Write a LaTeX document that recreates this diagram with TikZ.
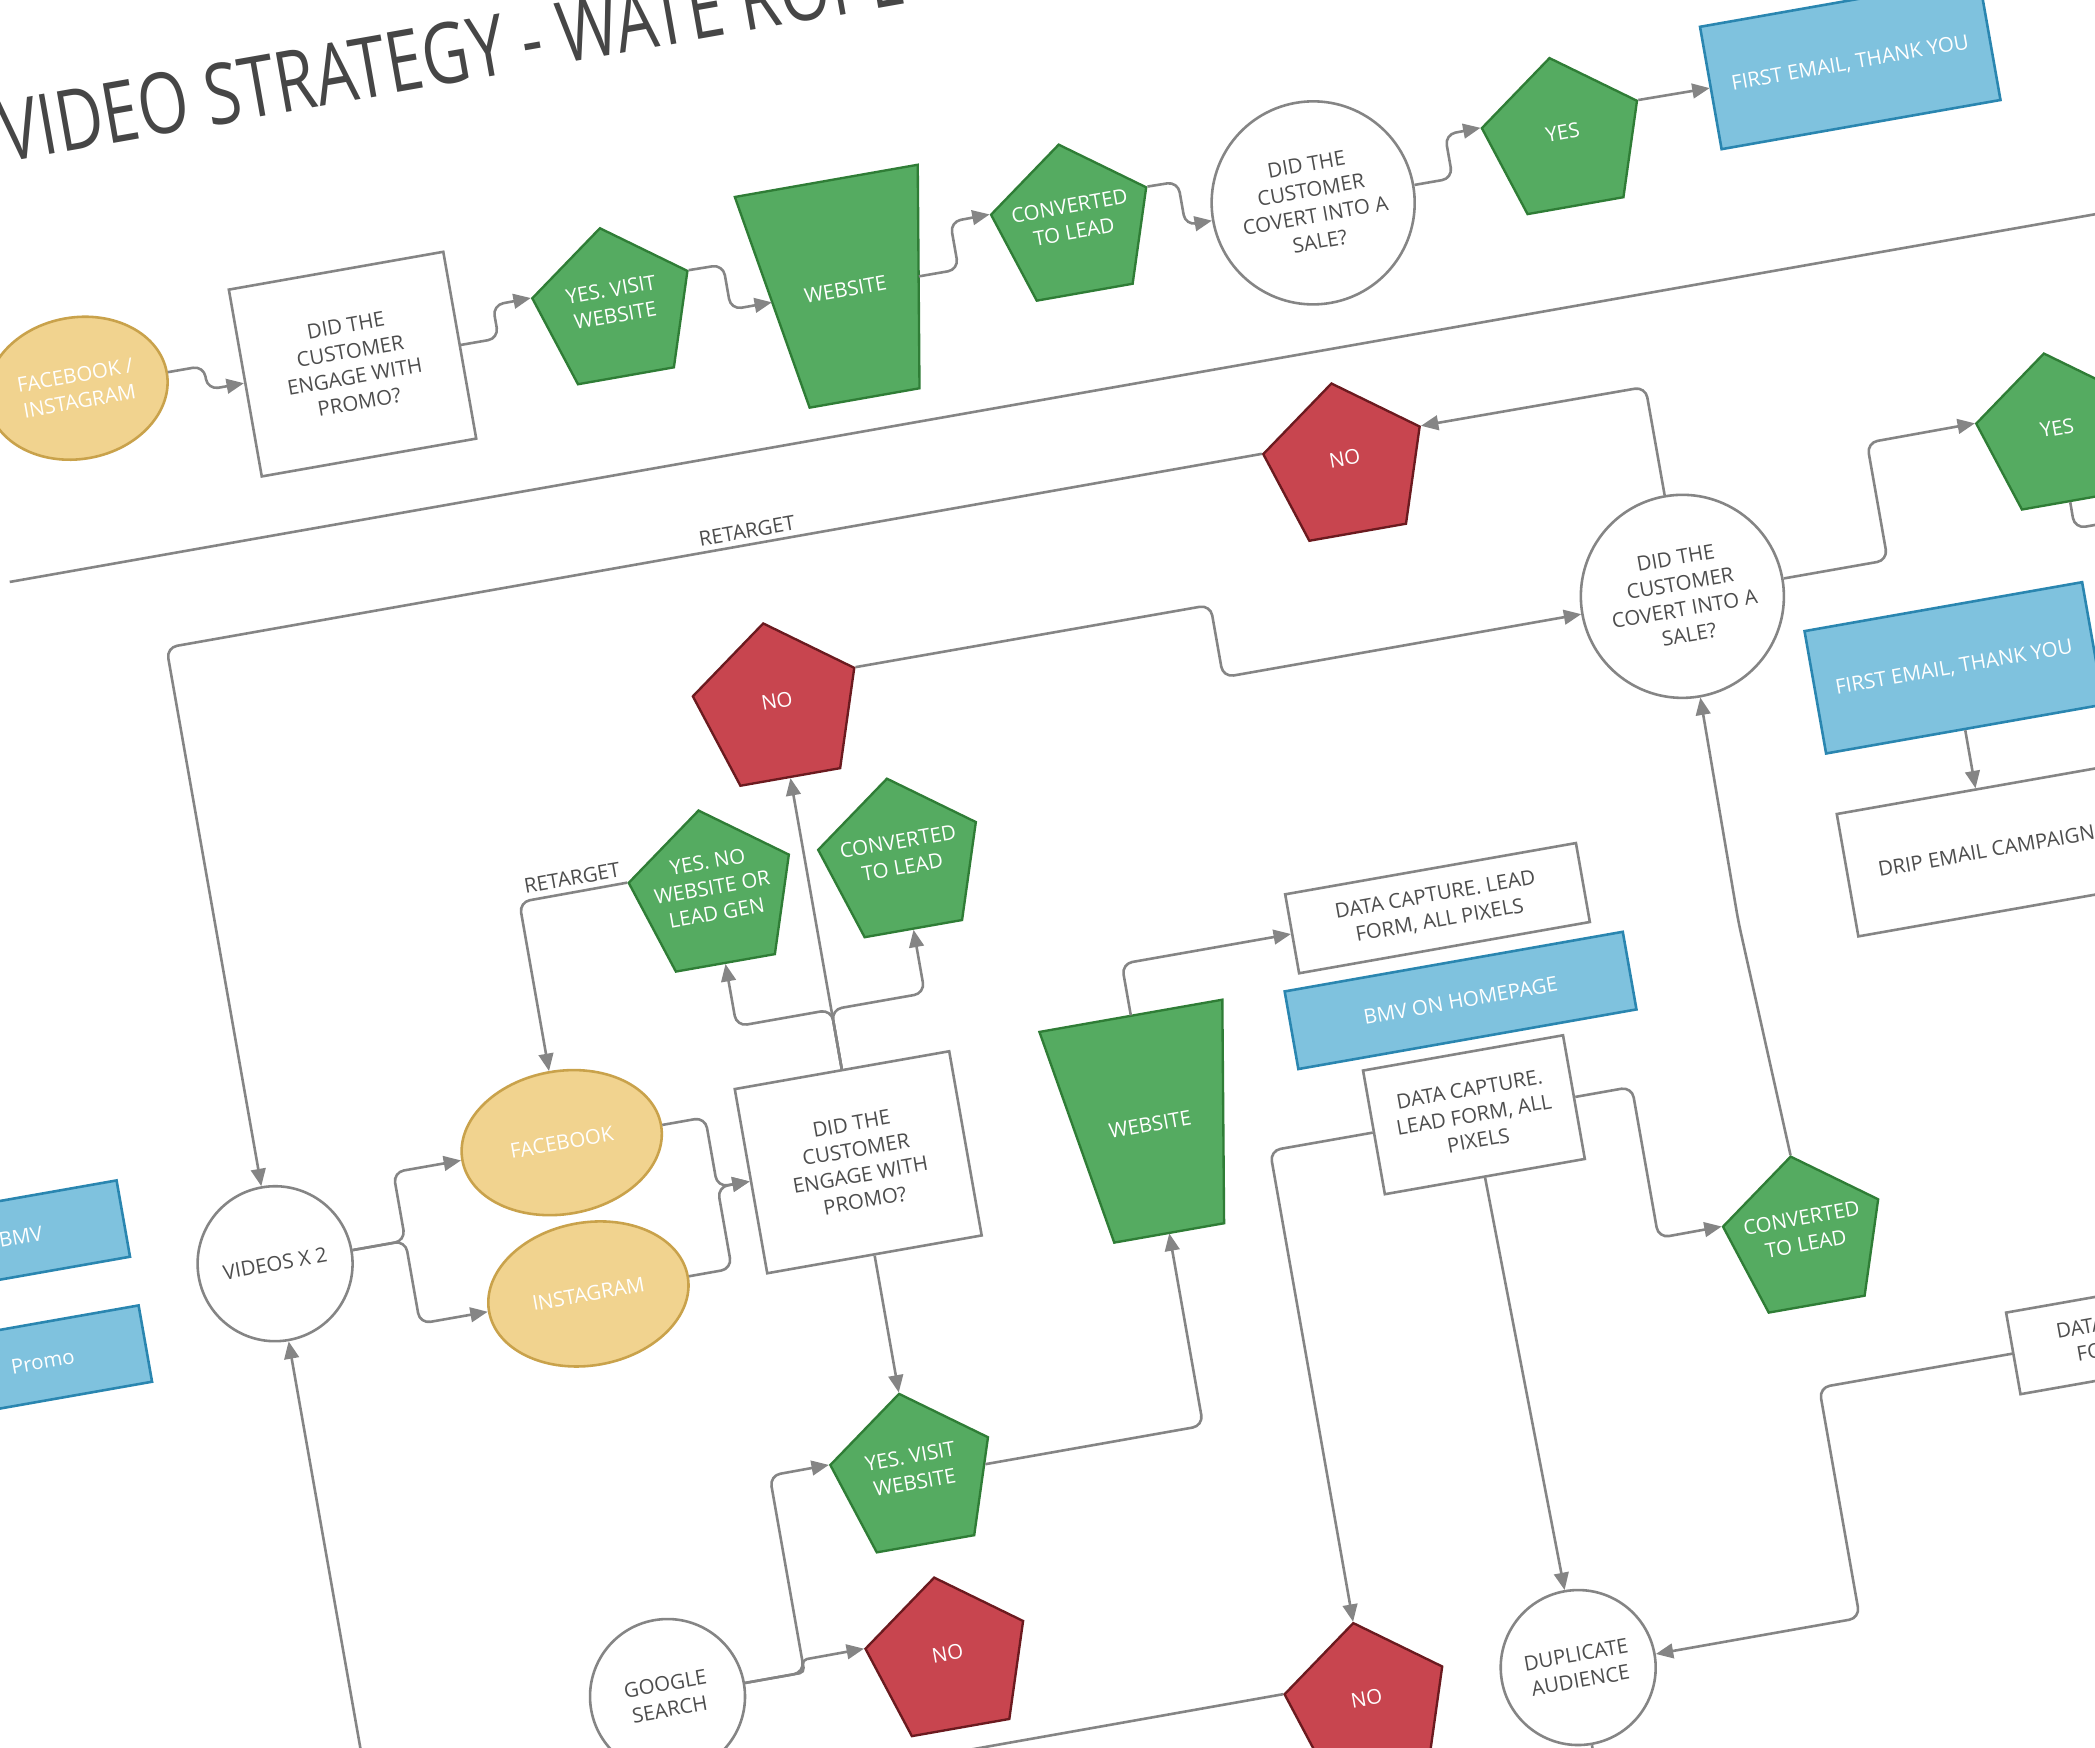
\documentclass[tikz,border=0pt]{standalone}
\usepackage{fontspec}
\setmainfont{Open Sans}
\usetikzlibrary{shapes.geometric,arrows.meta}
\definecolor{gfill}{HTML}{55AB61}
\definecolor{gdraw}{HTML}{2F7D36}
\definecolor{rfill}{HTML}{C8454F}
\definecolor{rdraw}{HTML}{6B1A1F}
\definecolor{yfill}{HTML}{F1D38F}
\definecolor{ydraw}{HTML}{C9A24B}
\definecolor{bfill}{HTML}{7FC2DE}
\definecolor{bdraw}{HTML}{2A86B0}
\definecolor{lgray}{HTML}{858585}
\definecolor{tgray}{HTML}{4D4D4D}
\definecolor{titlegray}{HTML}{464646}
\newcommand{\ctext}[1]{\smash{\makebox[0pt]{\begin{tabular}{@{}c@{}}#1\end{tabular}}}}
\begin{document}
\begin{tikzpicture}[x=0.02cm,y=0.02cm,
  txt/.style={font=\fontsize{8.7}{11.1}\selectfont, align=center, inner sep=0pt},
  gpent/.style={txt, regular polygon, regular polygon sides=5, minimum size=2.48cm, fill=gfill, draw=gdraw, line width=1pt, text=white},
  rpent/.style={txt, regular polygon, regular polygon sides=5, minimum size=2.5cm, fill=rfill, draw=rdraw, line width=1pt, text=white},
  trapnode/.style={txt, rectangle, minimum width=2.22cm, minimum height=3.3cm, text=white},
  trapfill/.style={fill=gfill, draw=gdraw, line width=1pt},
  wbox/.style={txt, rectangle, draw=lgray, fill=white, line width=1.1pt, text=tgray},
  wcirc/.style={txt, circle, draw=lgray, fill=white, line width=1.1pt, text=tgray},
  bluebox/.style={txt, rectangle, fill=bfill, draw=bdraw, line width=1.1pt, text=white},
  yell/.style={txt, ellipse, fill=yfill, draw=ydraw, line width=1.1pt, text=white},
  lbl/.style={txt, text=tgray, inner sep=1pt},
  titletxt/.style={font=\fontsize{36}{40}\selectfont, text=titlegray, inner sep=0pt, xscale=0.77},
  conn/.style={draw=lgray, line width=1.1pt, rounded corners=0.16cm, -{Triangle[length=0.26cm,width=0.22cm]}},
  plainline/.style={draw=lgray, line width=1.1pt, rounded corners=0.16cm},
]
\path[use as bounding box] (0,0) rectangle (1568,-1308);
\clip (0,0) rectangle (1568,-1308);
\fill[white] (0,0) rectangle (1568,-1308);
\begin{scope}[shift={(784,-654)}, rotate=10, transform shape]
% title
\node[titletxt, anchor=base west] (title) at (-676,660) {VIDEO STRATEGY - WATE ROPE};

% ---------- top row ----------
\node[yell, minimum width=2.72cm, minimum height=2.12cm] (fbig) at (-652,484) {FACEBOOK /\\INSTAGRAM};
\node[wbox, minimum width=3.26cm, minimum height=2.84cm] (eng1) at (-446,466) {DID THE\\CUSTOMER\\ENGAGE WITH\\PROMO?};
\node[gpent] (yv1) at (-246,472) {\ctext{YES. VISIT\\WEBSITE}};
\path[trapfill] (-142.5,539.5) -- (-3.5,539.5) -- (-31.25,374.5) -- (-114.75,374.5) -- cycle;
\node[trapnode] (web1) at (-73,457) {WEBSITE};
\node[gpent] (cl1) at (103,474) {\ctext{CONVERTED\\TO LEAD}};
\node[wcirc, minimum size=3.04cm] (sale1) at (283,460) {DID THE\\CUSTOMER\\COVERT INTO A\\SALE?};
\node[gpent] (yes1) at (476,474) {\ctext{YES}};
\node[bluebox, minimum width=4.24cm, minimum height=1.86cm] (em1) at (697,493) {FIRST EMAIL, THANK YOU};

\draw[conn] (fbig.east) -- (-556,484) -- (-556,466) -- (eng1.west);
\draw[conn] (eng1.east) -- (-335,466) -- (-335,491.2) -- (yv1.corner 2);
\draw[conn] (yv1.corner 5) -- (-160,491.2) -- (-160,457) -- (web1.west);
\draw[conn] (web1.east) -- (13,457) -- (13,493.2) -- (cl1.corner 2);
\draw[conn] (cl1.corner 5) -- (186,493.2) -- (186,460) -- (sale1.west);
\draw[conn] (sale1.east) -- (389,460) -- (389,493.2) -- (yes1.corner 2);
\draw[conn] (yes1.corner 5) -- (em1.west);

% separator line
\draw[plainline] (-727,350) -- (950,350);

% ---------- middle / right ----------
\node[rpent] (noA) at (273,262) {\ctext{NO}};
\node[wcirc, minimum size=3.04cm] (sale2) at (504,122) {DID THE\\CUSTOMER\\COVERT INTO A\\SALE?};
\node[rpent, minimum size=2.58cm] (noB) at (-177,157) {\ctext{NO}};
\node[wcirc, minimum size=2.32cm] (vid) at (-620,-187) {VIDEOS X 2};
\node[gpent] (yes2) at (802,192) {\ctext{YES}};
\node[bluebox, minimum width=4.22cm, minimum height=1.86cm] (em2) at (695,34) {FIRST EMAIL, THANK YOU};
\node[wbox, minimum width=4.22cm, minimum height=1.86cm] (drip) at (695,-105) {DRIP EMAIL CAMPAIGN};

\draw[conn] (noA.corner 2) -- (-620,281.2) -- (vid.north);
\node[lbl, anchor=south] (rt1) at (-177,284) {RETARGET};
\draw[conn] (sale2.north) -- (504,281.2) -- (noA.corner 5);
\draw[conn] (noB.corner 5) -- (155,177) -- (155,122) -- (sale2.west);
\draw[conn] (sale2.east) -- (660,122) -- (660,211.2) -- (yes2.corner 2);
\coordinate (yes2out) at (920,121);
\draw[plainline] (yes2.south) -- (802,121) -- (yes2out);
\draw[conn] (em2.south) -- (drip.north);

% ---------- left cluster ----------
\node[bluebox, minimum width=3.12cm, minimum height=1.16cm] (bmv) at (-804,-134) {BMV};
\node[bluebox, minimum width=3.12cm, minimum height=1.16cm] (promo) at (-804,-229) {Promo};
\node[yell, minimum width=3.02cm, minimum height=2.14cm] (fb) at (-393,-135) {FACEBOOK};
\node[yell, minimum width=3.02cm, minimum height=2.14cm] (ig) at (-393,-250) {INSTAGRAM};
\node[wbox, minimum width=3.26cm, minimum height=2.8cm] (eng2) at (-177,-188) {DID THE\\CUSTOMER\\ENGAGE WITH\\PROMO?};
\node[gpent, minimum size=2.56cm] (yn) at (-249,28) {\ctext{YES. NO\\WEBSITE OR\\LEAD GEN}};
\node[gpent, minimum size=2.52cm] (cm) at (-106,28) {\ctext{CONVERTED\\TO LEAD}};

\draw[conn] (vid.east) -- (-521,-187) -- (-521,-135) -- (fb.west);
\draw[conn] (vid.east) -- (-521,-187) -- (-521,-250) -- (ig.west);
\draw[conn] (fb.east) -- (-284,-135) -- (-284,-188) -- (eng2.west);
\draw[conn] (ig.east) -- (-284,-250) -- (-284,-188) -- (eng2.west);
\draw[conn] (eng2.north) -- (noB.south);
\draw[conn] (eng2.north) -- (-177,-72) -- (-249,-72) -- (yn.south);
\draw[conn] (eng2.north) -- (-177,-72) -- (-106,-72) -- (cm.south);
\draw[conn] (yn.corner 2) -- (-393,47.8) -- (fb.north);
\node[lbl, anchor=south] (rt2) at (-351,51) {RETARGET};

% ---------- bottom ----------
\coordinate (vidin) at (-620,-740);
\draw[conn] (vidin) -- (vid.south);
\node[gpent, minimum size=2.52cm] (yv2) at (-177,-427) {\ctext{YES. VISIT\\WEBSITE}};
\path[trapfill] (-26.5,-115.5) -- (112.5,-115.5) -- (84.75,-280.5) -- (1.25,-280.5) -- cycle;
\node[trapnode] (web2) at (43,-198) {WEBSITE};
\node[wbox, minimum width=4.42cm, minimum height=1.2cm] (datA) at (283,-76) {DATA CAPTURE. LEAD\\FORM, ALL PIXELS};
\node[bluebox, minimum width=5.14cm, minimum height=1.18cm] (bmvh) at (288,-147) {BMV ON HOMEPAGE};
\node[wbox, minimum width=3.04cm, minimum height=1.88cm] (datB) at (283,-233) {DATA CAPTURE.\\LEAD FORM, ALL\\PIXELS};
\node[rpent, minimum size=2.52cm] (noC) at (128,-655) {\ctext{NO}};
\node[wcirc, minimum size=2.32cm] (dup) at (288,-654) {DUPLICATE\\AUDIENCE};
\node[gpent] (clB) at (511,-367) {\ctext{CONVERTED\\TO LEAD}};
\node[wbox, minimum width=4.42cm, minimum height=1.24cm] (datR) at (760,-479) {DATA CAPTURE. LEAD\\FORM, ALL PIXELS};
\node[wcirc, minimum size=2.32cm] (ggl) at (-387,-557) {GOOGLE\\SEARCH};
\node[rpent, minimum size=2.52cm] (noD) at (-175,-567) {\ctext{NO}};

\draw[conn] (eng2.south) -- (yv2.north);
\draw[conn] (yv2.east) -- (43,-427) -- (web2.south);
\draw[conn] (web2.north) -- (43,-76) -- (datA.west);
\draw[conn] (datB.west) -- (128,-233) -- (noC.north);
\draw[conn] (datB.south) -- (dup.north);
\draw[conn] (datB.east) -- (403,-233) -- (403,-347.8) -- (clB.corner 2);
\draw[conn] (clB.north) -- (503,-125) -- (sale2.south);
\draw[conn] (datR.west) -- (502,-479) -- (502,-654) -- (dup.east);
\coordinate (noCout) at (-280,-635.5);
\draw[plainline] (noC.corner 2) -- (noCout);
\coordinate (dupout) at (288,-780);
\draw[plainline] (dup.south) -- (dupout);
\draw[conn] (ggl.east) -- (-283,-557) -- (-283,-407.5) -- (yv2.corner 2);
\draw[conn, rounded corners=2pt] (ggl.east) -- (-283,-557) -- (-283,-547.5) -- (noD.corner 2);
\end{scope}
\end{tikzpicture}
\end{document}
